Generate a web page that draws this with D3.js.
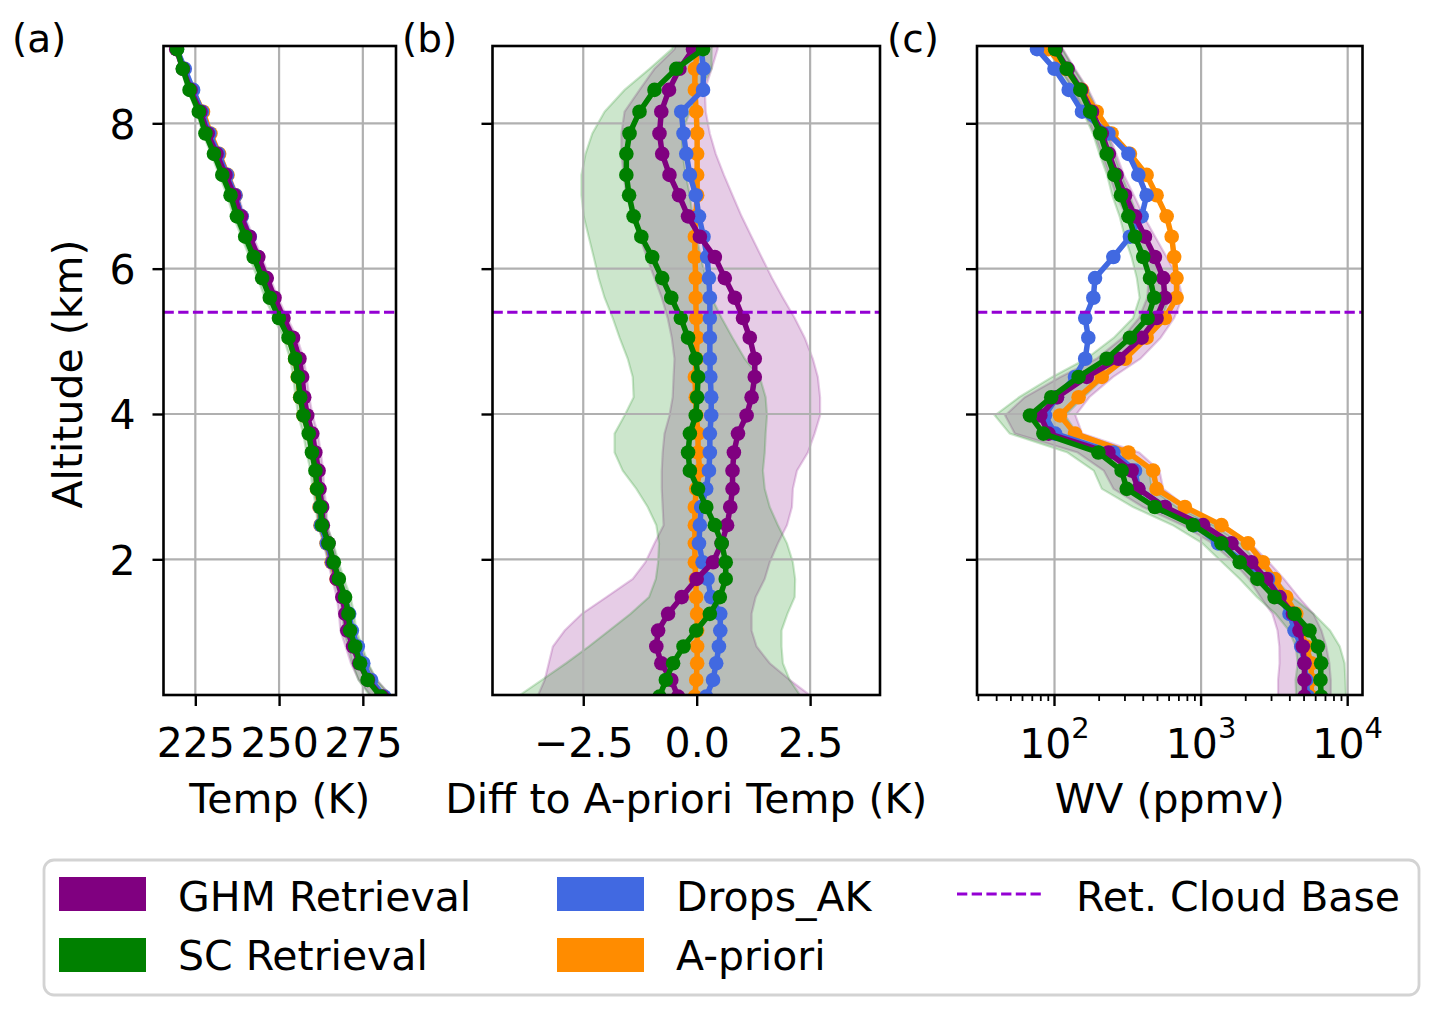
<!DOCTYPE html>
<html>
<head>
<meta charset="utf-8">
<script src="https://cdn.jsdelivr.net/npm/d3@7"></script>
<style>
  body { margin: 0; background: #fff; }
  text { font-family: "DejaVu Sans", sans-serif; fill: #000; }
</style>
</head>
<body>
<svg id="chart" width="1443" height="1014"></svg>
<script>
// ---- data (index 0 = lowest level) ----
var altitude = [0.11, 0.34, 0.57, 0.80, 1.02, 1.25, 1.48, 1.73, 1.96, 2.22, 2.47, 2.72, 2.97, 3.22, 3.47, 3.73, 3.98, 4.23,
                4.51, 4.76, 5.05, 5.32, 5.60, 5.87, 6.16, 6.44, 6.72, 7.01, 7.29, 7.58, 7.86, 8.16, 8.46, 8.75, 9.02, 9.30];

// a-priori temperature (K), reference of panel b
var tempRef = [281.2, 277.1, 274.7, 273.0, 271.2, 270.4, 269.2, 267.2, 265.7, 264.2, 262.4, 262.1, 261.3, 261.0, 260.0, 259.0, 257.3, 256.3,
               255.6, 254.8, 253.0, 250.3, 247.8, 245.7, 243.4, 241.1, 238.8, 237.0, 234.6, 232.1, 229.5, 227.3, 224.2, 221.7, 219.4, 217.2];

// differences to a-priori temperature (K)
var dTempGHM = [-0.41, -0.56, -0.78, -0.89, -0.85, -0.63, -0.33, 0.00, 0.36, 0.55, 0.67, 0.74, 0.79, 0.79, 0.82, 0.91, 1.10, 1.21,
                1.28, 1.28, 1.17, 1.02, 0.84, 0.62, 0.40, 0.07, -0.19, -0.39, -0.60, -0.76, -0.82, -0.78, -0.61, -0.38, -0.08, 0.05];
var dTempGHMLow = [-3.51, -3.35, -3.26, -3.17, -2.91, -2.53, -1.99, -1.41, -1.13, -0.93, -0.73, -0.75, -0.77, -0.77, -0.75, -0.71, -0.60, -0.53,
                   -0.51, -0.49, -0.55, -0.64, -0.77, -0.93, -1.10, -1.26, -1.41, -1.55, -1.61, -1.66, -1.66, -1.59, -1.26, -0.93, -0.49, -0.35];
var dTempGHMHigh = [2.54, 2.05, 1.61, 1.32, 1.21, 1.21, 1.30, 1.50, 1.61, 1.79, 1.99, 2.10, 2.12, 2.21, 2.45, 2.60, 2.72, 2.72,
                    2.67, 2.56, 2.38, 2.16, 1.90, 1.66, 1.43, 1.21, 0.99, 0.79, 0.60, 0.42, 0.29, 0.20, 0.18, 0.33, 0.46, 0.50];

var dTempSC = [-0.82, -0.68, -0.52, -0.29, -0.01, 0.29, 0.51, 0.64, 0.64, 0.55, 0.40, 0.21, 0.03, -0.15, -0.19, -0.15, -0.02, 0.01,
               0.03, -0.02, -0.19, -0.35, -0.56, -0.76, -0.98, -1.22, -1.39, -1.49, -1.55, -1.55, -1.48, -1.26, -0.93, -0.45, 0.14, 0.30];
var dTempSCLow = [-3.95, -3.41, -2.88, -2.38, -1.93, -1.46, -1.05, -0.90, -0.85, -0.83, -0.89, -1.08, -1.33, -1.63, -1.81, -1.81, -1.59, -1.39,
                  -1.41, -1.52, -1.70, -1.85, -2.03, -2.16, -2.27, -2.38, -2.49, -2.54, -2.54, -2.45, -2.30, -2.03, -1.59, -1.04, -0.55, -0.35];
var dTempSCHigh = [2.30, 2.05, 1.90, 1.87, 1.87, 2.00, 2.16, 2.17, 2.12, 1.99, 1.79, 1.61, 1.50, 1.46, 1.50, 1.52, 1.55, 1.52,
                   1.39, 1.06, 0.79, 0.55, 0.33, 0.20, 0.09, 0.00, -0.09, -0.15, -0.24, -0.31, -0.33, -0.15, 0.07, 0.33, 0.33, 0.45];

var dTempDrops = [0.21, 0.36, 0.43, 0.49, 0.52, 0.52, 0.32, 0.24, 0.13, 0.05, 0.07, 0.10, 0.21, 0.27, 0.29, 0.29, 0.32, 0.32,
                  0.30, 0.29, 0.29, 0.29, 0.29, 0.27, 0.23, 0.15, 0.05, -0.02, -0.15, -0.23, -0.29, -0.34, 0.14, 0.15, 0.10, 0.08];
var dTempApr = [-0.04, -0.01, 0.01, 0.01, 0.01, 0.01, -0.01, -0.02, -0.04, -0.04, -0.04, -0.04, -0.01, 0.07, 0.03, 0.03, -0.01, -0.02,
                -0.04, -0.01, 0.01, -0.01, -0.02, -0.02, -0.04, -0.04, -0.02, 0.01, 0.01, 0.01, 0.01, -0.01, -0.04, -0.04, 0.03, 0.05];

// water vapour (ppmv)
var wvGHM = [5070, 5070, 5070, 4940, 4690, 4230, 3430, 2790, 2200, 1610, 1033, 566, 373, 336, 233, 91, 80, 104,
             166, 273, 393, 497, 566, 552, 484, 414, 354, 303, 265, 235, 210, 180, 152, 123, 102, 88];
var wvSC = [6590, 6520, 6590, 6250, 5490, 4340, 3170, 2420, 1834, 1377, 883, 484, 311, 287, 199, 84, 68, 95,
            146, 227, 327, 432, 479, 448, 403, 354, 319, 284, 256, 227, 205, 175, 150, 121, 101, 88];
var wvDrops = [5350, 5210, 5070, 4820, 4340, 4010, 3430, 2860, 1982, 1306, 906, 566, 373, 354, 252, 101, 86, 104,
               138, 162, 170, 162, 184, 189, 252, 327, 393, 425, 373, 319, 233, 154, 125, 100, 76, 64];
var wvApr = [5640, 5640, 5640, 5210, 4820, 4460, 3810, 3170, 2640, 2090, 1377, 775, 497, 471, 319, 138, 109, 146,
             210, 303, 425, 566, 680, 680, 655, 630, 582, 497, 425, 327, 245, 194, 154, 118, 91, 78];
// uncertainty as log10 half width
var wvErrGHM = [0.18, 0.18, 0.17, 0.16, 0.15, 0.14, 0.13, 0.12, 0.12, 0.13, 0.14, 0.15, 0.17, 0.19, 0.21, 0.23, 0.24, 0.22,
                0.18, 0.15, 0.13, 0.12, 0.12, 0.10, 0.08, 0.07, 0.06, 0.06, 0.05, 0.05, 0.05, 0.05, 0.05, 0.05, 0.05, 0.05];
var wvErrSC = [0.17, 0.17, 0.16, 0.15, 0.14, 0.13, 0.12, 0.12, 0.12, 0.13, 0.14, 0.15, 0.17, 0.19, 0.21, 0.23, 0.24, 0.22,
               0.18, 0.14, 0.11, 0.10, 0.10, 0.09, 0.08, 0.07, 0.06, 0.06, 0.05, 0.05, 0.05, 0.05, 0.05, 0.05, 0.05, 0.05];

var cloudBase = 5.4;

var tempTicks = [225, 250, 275];
var diffTicks = [-2.5, 0, 2.5];
var wvTicks = [100, 1000, 10000];
var altTicks = [2, 4, 6, 8];

var colors = { ghm: "purple", sc: "green", drops: "royalblue", apr: "darkorange", cloud: "darkviolet" };

// ---- layout ----
var svg = d3.select("#chart");
var defs = svg.append("defs");
var top_ = 46, bottom_ = 695;
var fontSize = "41px";
var y = d3.scaleLinear().domain([0.133, 9.064]).range([bottom_, top_]);

function plus(base, d) { return base.map(function(v, i){ return v + d[i]; }); }
function scaleErr(v, e, s) { return v.map(function(x, i){ return x * Math.pow(10, s * e[i]); }); }

var panels = [
  { tag: "(a)", tagX: 12, label: "Temp (K)", yLabels: true,
    x: d3.scaleLinear().domain([215.5, 284.9]).range([163.5, 396]),
    ticks: tempTicks, fmt: d3.format("d"),
    bands: [ { color: colors.ghm, lo: plus(tempRef, dTempGHMLow), hi: plus(tempRef, dTempGHMHigh) },
             { color: colors.sc,  lo: plus(tempRef, dTempSCLow),  hi: plus(tempRef, dTempSCHigh) } ],
    lines: [ { color: colors.apr,   v: plus(tempRef, dTempApr) },
             { color: colors.drops, v: plus(tempRef, dTempDrops) },
             { color: colors.ghm,   v: plus(tempRef, dTempGHM) },
             { color: colors.sc,    v: plus(tempRef, dTempSC) } ] },
  { tag: "(b)", tagX: 402, label: "Diff to A-priori Temp (K)",
    x: d3.scaleLinear().domain([-4.5, 4.04]).range([492.5, 880]),
    ticks: diffTicks, fmt: d3.format(".1f"),
    bands: [ { color: colors.ghm, lo: dTempGHMLow, hi: dTempGHMHigh },
             { color: colors.sc,  lo: dTempSCLow,  hi: dTempSCHigh } ],
    lines: [ { color: colors.apr,   v: dTempApr },
             { color: colors.drops, v: dTempDrops },
             { color: colors.ghm,   v: dTempGHM },
             { color: colors.sc,    v: dTempSC } ] },
  { tag: "(c)", tagX: 887, label: "WV (ppmv)", log: true,
    x: d3.scaleLog().domain([29.6, 12620]).range([977, 1362.5]),
    ticks: wvTicks,
    bands: [ { color: colors.ghm, lo: scaleErr(wvGHM, wvErrGHM, -1), hi: scaleErr(wvGHM, wvErrGHM, 1) },
             { color: colors.sc,  lo: scaleErr(wvSC, wvErrSC, -1),   hi: scaleErr(wvSC, wvErrSC, 1) } ],
    lines: [ { color: colors.apr,   v: wvApr },
             { color: colors.drops, v: wvDrops },
             { color: colors.ghm,   v: wvGHM },
             { color: colors.sc,    v: wvSC } ] }
];

panels.forEach(function(p, k){
  var x0 = p.x.range()[0], x1 = p.x.range()[1];
  var g = svg.append("g");
  defs.append("clipPath").attr("id", "clip" + k).append("rect")
      .attr("x", x0).attr("y", top_).attr("width", x1 - x0).attr("height", bottom_ - top_);
  var plot = g.append("g").attr("clip-path", "url(#clip" + k + ")");

  // uncertainty bands
  p.bands.forEach(function(b){
    var area = d3.area()
        .y(function(d){ return y(d.alt); })
        .x0(function(d){ return p.x(d.lo); })
        .x1(function(d){ return p.x(d.hi); });
    plot.append("path")
        .datum(altitude.map(function(a, i){ return { alt: a, lo: b.lo[i], hi: b.hi[i] }; }))
        .attr("d", area)
        .attr("fill", b.color).attr("fill-opacity", 0.2)
        .attr("stroke", b.color).attr("stroke-opacity", 0.2).attr("stroke-width", 2.2);
  });

  // grid above the bands, below the lines
  plot.selectAll(".gx").data(p.ticks).enter().append("line")
      .attr("x1", function(d){ return p.x(d); }).attr("x2", function(d){ return p.x(d); })
      .attr("y1", top_).attr("y2", bottom_)
      .attr("stroke", "#b0b0b0").attr("stroke-width", 2.2);
  plot.selectAll(".gy").data(altTicks).enter().append("line")
      .attr("x1", x0).attr("x2", x1)
      .attr("y1", function(d){ return y(d); }).attr("y2", function(d){ return y(d); })
      .attr("stroke", "#b0b0b0").attr("stroke-width", 2.2);

  // profiles
  p.lines.forEach(function(s){
    var pts = altitude.map(function(a, i){ return { alt: a, v: s.v[i] }; });
    var line = d3.line().x(function(d){ return p.x(d.v); }).y(function(d){ return y(d.alt); });
    plot.append("path").datum(pts).attr("d", line)
        .attr("fill", "none").attr("stroke", s.color).attr("stroke-width", 5.5)
        .attr("stroke-linejoin", "round");
    plot.selectAll(null).data(pts).enter().append("circle")
        .attr("cx", function(d){ return p.x(d.v); })
        .attr("cy", function(d){ return y(d.alt); })
        .attr("r", 7.3).attr("fill", s.color);
  });

  // retrieved cloud base
  plot.append("line")
      .attr("x1", x0).attr("x2", x1).attr("y1", y(cloudBase)).attr("y2", y(cloudBase))
      .attr("stroke", colors.cloud).attr("stroke-width", 2.8).attr("stroke-dasharray", "10.3,4.4");

  // frame
  g.append("rect").attr("x", x0).attr("y", top_).attr("width", x1 - x0).attr("height", bottom_ - top_)
      .attr("fill", "none").attr("stroke", "#000").attr("stroke-width", 2.6);

  // left axis
  var ya = g.append("g").attr("transform", "translate(" + x0 + ",0)")
      .call(d3.axisLeft(y).tickValues(altTicks).tickSize(11).tickSizeOuter(0).tickPadding(17));
  ya.select(".domain").remove();
  ya.selectAll(".tick line").attr("stroke", "#000").attr("stroke-width", 2.4);
  if (p.yLabels) {
    ya.selectAll(".tick text").attr("dy", "0.364em").style("font-size", fontSize)
      .style("font-family", "DejaVu Sans").attr("fill", "#000");
  } else {
    ya.selectAll(".tick text").remove();
  }

  // bottom axis
  var xa = g.append("g").attr("transform", "translate(0," + bottom_ + ")");
  if (!p.log) {
    xa.call(d3.axisBottom(p.x).tickValues(p.ticks).tickFormat(p.fmt).tickSize(11).tickSizeOuter(0));
    xa.selectAll(".tick text").attr("y", 62).attr("dy", null).style("font-size", fontSize)
      .style("font-family", "DejaVu Sans").attr("fill", "#000");
  } else {
    var minor = p.x.ticks().filter(function(t){ return p.ticks.indexOf(t) < 0; });
    xa.call(d3.axisBottom(p.x).tickValues(minor).tickFormat("").tickSize(6).tickSizeOuter(0));
    xa.selectAll(".tick line").attr("stroke-width", 1.8);
    var major = xa.append("g");
    major.selectAll("line").data(p.ticks).enter().append("line")
        .attr("x1", function(d){ return p.x(d); }).attr("x2", function(d){ return p.x(d); })
        .attr("y1", 0).attr("y2", 11).attr("stroke", "#000").attr("stroke-width", 2.4);
    var lab = major.selectAll("text").data(p.ticks).enter().append("text")
        .attr("x", function(d){ return p.x(d); }).attr("y", 63)
        .attr("text-anchor", "middle").style("font-size", fontSize);
    lab.append("tspan").text("10");
    lab.append("tspan").attr("dy", -20).style("font-size", "29px")
       .text(function(d){ return String(Math.round(Math.log10(d))); });
  }
  xa.select(".domain").remove();
  xa.selectAll(".tick line").attr("stroke", "#000");
  if (!p.log) xa.selectAll(".tick line").attr("stroke-width", 2.4);

  // axis label and panel tag
  svg.append("text").attr("x", (x0 + x1) / 2).attr("y", 813)
     .attr("text-anchor", "middle").style("font-size", fontSize).text(p.label);
  svg.append("text").attr("x", p.tagX).attr("y", 52).style("font-size", "39px").text(p.tag);
});

svg.append("text").attr("transform", "translate(82,374) rotate(-90)")
   .attr("text-anchor", "middle").style("font-size", fontSize).text("Altitude (km)");

// ---- legend ----
var legendItems = [
  { label: "GHM Retrieval", color: colors.ghm,   col: 0, row: 0 },
  { label: "SC Retrieval",  color: colors.sc,    col: 0, row: 1 },
  { label: "Drops_AK",      color: colors.drops, col: 1, row: 0 },
  { label: "A-priori",      color: colors.apr,   col: 1, row: 1 },
  { label: "Ret. Cloud Base", color: colors.cloud, col: 2, row: 0, dashed: true }
];
var colX = [59, 557, 957], textX = [178, 676, 1076];
var rowY = [877, 938], rowBase = [911, 970];

var leg = svg.append("g");
leg.append("rect").attr("x", 44).attr("y", 860).attr("width", 1375).attr("height", 135)
   .attr("rx", 10).attr("fill", "#fff").attr("fill-opacity", 0.8)
   .attr("stroke", "#d3d3d3").attr("stroke-width", 2.8);
legendItems.forEach(function(it){
  if (it.dashed) {
    leg.append("line").attr("x1", colX[it.col]).attr("x2", colX[it.col] + 86)
       .attr("y1", rowY[it.row] + 17).attr("y2", rowY[it.row] + 17)
       .attr("stroke", it.color).attr("stroke-width", 2.8).attr("stroke-dasharray", "10.3,4.4");
  } else {
    leg.append("rect").attr("x", colX[it.col]).attr("y", rowY[it.row])
       .attr("width", 87).attr("height", 34).attr("fill", it.color);
  }
  leg.append("text").attr("x", textX[it.col]).attr("y", rowBase[it.row])
     .style("font-size", fontSize).text(it.label);
});
</script>
</body>
</html>
